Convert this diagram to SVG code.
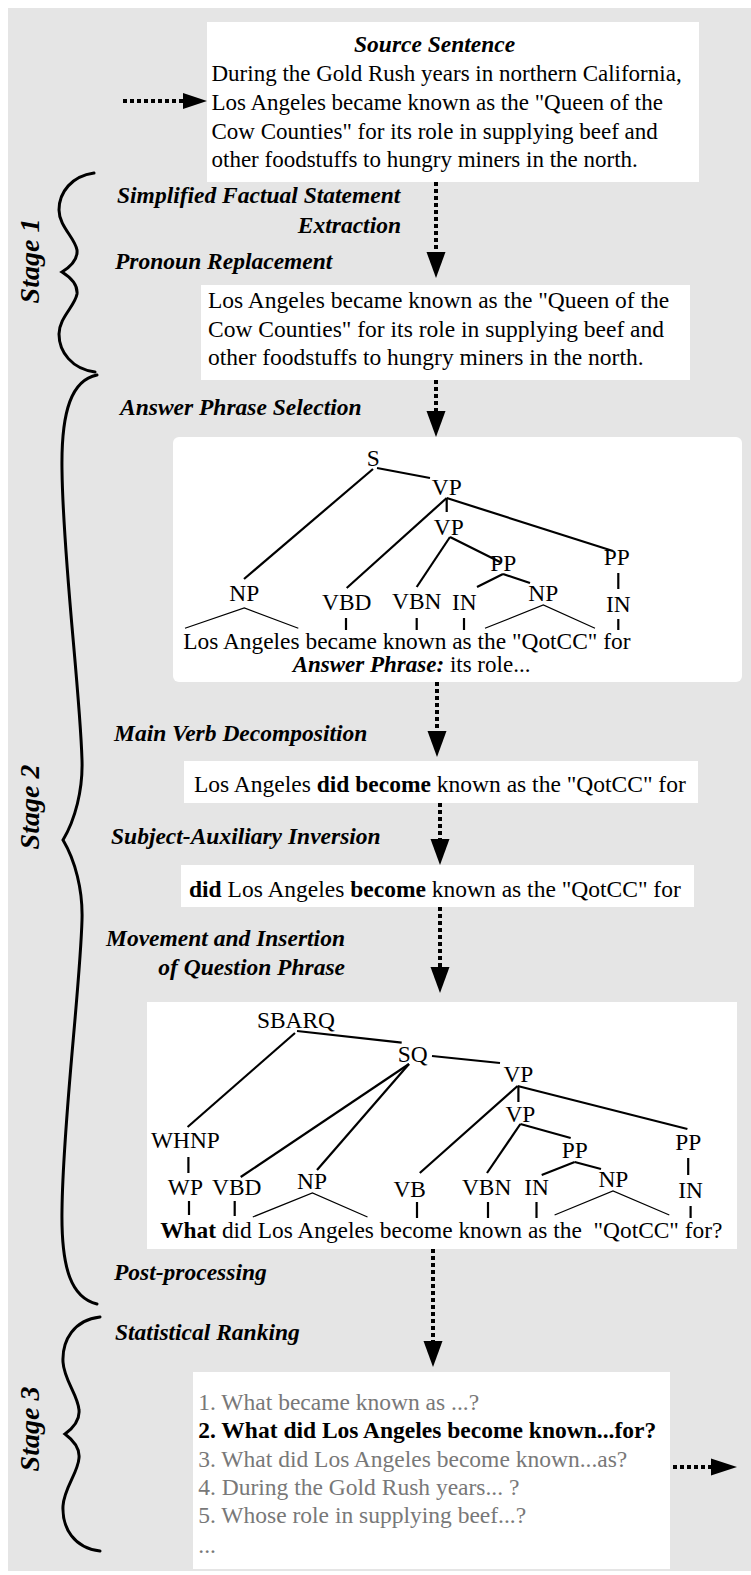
<svg xmlns="http://www.w3.org/2000/svg" width="751" height="1575" viewBox="0 0 751 1575">
<defs>
<style>
.bg{fill:#e5e5e5}
.box{fill:#ffffff}
text{font-family:"Liberation Serif","Times New Roman",serif;font-size:23.5px;fill:#000}
.src{font-size:23px}
.lbl{font-weight:bold;font-style:italic}
.stage{font-weight:bold;font-style:italic;font-size:28px;text-anchor:middle}
.b{font-weight:bold}
.g{fill:#787878}
.mid{text-anchor:middle}
.end{text-anchor:end}
.tree text{font-size:23.4px;text-anchor:middle}
.tree text.sent{text-anchor:start}
.edge{stroke:#000;stroke-width:2.2;fill:none}
.tri{stroke:#000;stroke-width:1.2;fill:none}
.dot{stroke:#000;stroke-width:4;stroke-dasharray:4 3;fill:none}
.brace{stroke:#000;stroke-width:3;fill:none;stroke-linecap:round}
.head{fill:#000}
</style>
</defs>

<g id="background">
<rect x="0" y="0" width="751" height="1575" fill="#ffffff"/>
<rect class="bg" x="8" y="8" width="743" height="1563"/>
</g>

<g id="stage1">
<path class="brace" d="M 94,173 C 72,176 59,192 59,210 C 59,226 75,238 77,250 C 78,260 70,267 62,272 C 70,277 78,284 77,294 C 75,306 59,318 59,334 C 59,352 72,369 95,372"/>
<text class="stage" transform="translate(39,261) rotate(-90)">Stage 1</text>
</g>

<g id="stage2">
<path class="brace" d="M 97,375 C 72,380 61,410 62,470 C 63,560 80,690 82,760 C 83,790 75,820 63,840 C 75,860 83,890 82,920 C 80,990 63,1120 62,1210 C 61,1270 72,1298 97,1304"/>
<text class="stage" transform="translate(39,807) rotate(-90)">Stage 2</text>
</g>

<g id="stage3">
<path class="brace" d="M 100,1317 C 74,1320 62,1340 63,1362 C 64,1380 78,1395 79,1410 C 80,1420 73,1428 65,1434 C 73,1440 80,1448 79,1458 C 78,1473 64,1488 63,1506 C 62,1528 74,1548 100,1551"/>
<text class="stage" transform="translate(39,1429) rotate(-90)">Stage 3</text>
</g>

<g id="source">
<rect class="box" x="207" y="22" width="492" height="160"/>
<text class="lbl" x="354" y="52">Source Sentence</text>
<text class="src" x="211.5" y="81">During the Gold Rush years in northern California,</text>
<text class="src" x="211.5" y="110">Los Angeles became known as the "Queen of the</text>
<text class="src" x="211.5" y="138.6">Cow Counties" for its role in supplying beef and</text>
<text class="src" x="211.5" y="167.4">other foodstuffs to hungry miners in the north.</text>
</g>

<g id="steps">
<text class="lbl" x="117" y="203">Simplified Factual Statement</text>
<text class="lbl end" x="401" y="233">Extraction</text>
<text class="lbl" x="115" y="269">Pronoun Replacement</text>
<text class="lbl" x="120" y="415">Answer Phrase Selection</text>
<text class="lbl" x="114" y="741">Main Verb Decomposition</text>
<text class="lbl" x="111" y="844">Subject-Auxiliary Inversion</text>
<text class="lbl" x="106" y="946">Movement and Insertion</text>
<text class="lbl end" x="345" y="975">of Question Phrase</text>
<text class="lbl" x="114" y="1280">Post-processing</text>
<text class="lbl" x="115" y="1340">Statistical Ranking</text>
</g>

<g id="statement">
<rect class="box" x="201" y="285" width="489" height="95"/>
<text x="208" y="308">Los Angeles became known as the "Queen of the</text>
<text x="208" y="336.6">Cow Counties" for its role in supplying beef and</text>
<text x="208" y="365.2">other foodstuffs to hungry miners in the north.</text>
</g>

<g id="tree1" class="tree">
<rect class="box" x="173" y="437" width="569" height="245" rx="6"/>
<text x="373.3" y="466">S</text>
<text x="446.7" y="495">VP</text>
<text x="448.7" y="535">VP</text>
<text x="244.3" y="601">NP</text>
<text x="346.7" y="610">VBD</text>
<text x="416.7" y="609">VBN</text>
<text x="464.3" y="610">IN</text>
<text x="503.3" y="571">PP</text>
<text x="543.3" y="601">NP</text>
<text x="616.7" y="565">PP</text>
<text x="618.3" y="612">IN</text>
<line class="edge" x1="377" y1="468" x2="430" y2="478"/>
<line class="edge" x1="373" y1="469" x2="244" y2="579"/>
<line class="edge" x1="446.7" y1="498" x2="346.7" y2="588"/>
<line class="edge" x1="446.7" y1="498" x2="446.7" y2="512"/>
<line class="edge" x1="446.7" y1="498" x2="613" y2="551"/>
<line class="edge" x1="450" y1="537" x2="416.7" y2="587"/>
<line class="edge" x1="450" y1="537" x2="500" y2="562"/>
<line class="edge" x1="503" y1="574" x2="477" y2="587"/>
<line class="edge" x1="503" y1="574" x2="530" y2="583"/>
<line class="edge" x1="618.3" y1="573" x2="618.3" y2="589"/>
<line class="edge" x1="618.3" y1="619" x2="618.3" y2="630"/>
<line class="edge" x1="346" y1="618" x2="346" y2="630"/>
<line class="edge" x1="416.7" y1="618" x2="416.7" y2="630"/>
<line class="edge" x1="464" y1="618" x2="464" y2="630"/>
<polyline class="tri" points="185,628.3 244.3,608 298.3,628.3"/>
<polyline class="tri" points="485,628.3 543.3,605 595,628.3"/>
<text class="sent" x="183.3" y="649">Los Angeles became known as the "QotCC" for</text>
<text class="sent" x="292.7" y="672" style="font-size:23px"><tspan class="lbl">Answer Phrase:</tspan> its role...</text>
</g>

<g id="decomposition">
<rect class="box" x="184" y="761" width="514" height="42"/>
<text x="194" y="792">Los Angeles <tspan class="b">did become</tspan> known as the "QotCC" for</text>
</g>

<g id="inversion">
<rect class="box" x="181" y="865" width="513" height="42"/>
<text x="189" y="897"><tspan class="b">did</tspan> Los Angeles <tspan class="b">become</tspan> known as the "QotCC" for</text>
</g>

<g id="tree2" class="tree">
<rect class="box" x="147" y="1002" width="590" height="247"/>
<text x="296" y="1028">SBARQ</text>
<text x="412.6" y="1062">SQ</text>
<text x="518.4" y="1082">VP</text>
<text x="520.4" y="1122">VP</text>
<text x="185.4" y="1148">WHNP</text>
<text x="574.7" y="1158">PP</text>
<text x="688.2" y="1150">PP</text>
<text x="185.4" y="1195">WP</text>
<text x="236.7" y="1195">VBD</text>
<text x="312" y="1189">NP</text>
<text x="409.7" y="1197">VB</text>
<text x="486.6" y="1195">VBN</text>
<text x="536.5" y="1195">IN</text>
<text x="613.4" y="1187">NP</text>
<text x="690.6" y="1198">IN</text>
<line class="edge" x1="297" y1="1031" x2="401.7" y2="1042.7"/>
<line class="edge" x1="295" y1="1033" x2="187.6" y2="1127"/>
<line class="edge" x1="432" y1="1056" x2="500" y2="1063"/>
<line class="edge" x1="409" y1="1064" x2="240.7" y2="1177"/>
<line class="edge" x1="409" y1="1064" x2="317" y2="1170"/>
<line class="edge" x1="517.6" y1="1086" x2="419.8" y2="1173"/>
<line class="edge" x1="518.4" y1="1086" x2="518.4" y2="1102"/>
<line class="edge" x1="517.6" y1="1086" x2="687.4" y2="1129"/>
<line class="edge" x1="520.4" y1="1124" x2="487" y2="1173"/>
<line class="edge" x1="520.4" y1="1124" x2="570.7" y2="1138"/>
<line class="edge" x1="574.7" y1="1162" x2="541.7" y2="1175"/>
<line class="edge" x1="574.7" y1="1162" x2="601" y2="1169"/>
<line class="edge" x1="688.2" y1="1158" x2="688.2" y2="1175"/>
<line class="edge" x1="690.6" y1="1206" x2="690.6" y2="1218"/>
<line class="edge" x1="188.4" y1="1157" x2="188.4" y2="1173"/>
<line class="edge" x1="189" y1="1201" x2="189" y2="1215"/>
<line class="edge" x1="234.7" y1="1201" x2="234.7" y2="1216"/>
<line class="edge" x1="417" y1="1202" x2="417" y2="1218"/>
<line class="edge" x1="488" y1="1202" x2="488" y2="1218"/>
<line class="edge" x1="536.5" y1="1202" x2="536.5" y2="1218"/>
<polyline class="tri" points="252.8,1217 312.4,1193 367.5,1217"/>
<polyline class="tri" points="554.6,1215 613,1191 669.3,1215"/>
<text class="sent" x="160.2" y="1238"><tspan class="b">What</tspan> did Los Angeles become known as the&#160; "QotCC" for?</text>
</g>

<g id="ranking">
<rect class="box" x="193" y="1372" width="477" height="197"/>
<text class="g" x="198.3" y="1410">1. What became known as ...?</text>
<text class="b" x="198.3" y="1438.3">2. What did Los Angeles become known...for?</text>
<text class="g" x="198.3" y="1466.7">3. What did Los Angeles become known...as?</text>
<text class="g" x="198.3" y="1495">4. During the Gold Rush years... ?</text>
<text class="g" x="198.3" y="1523">5. Whose role in supplying beef...?</text>
<text class="g" x="198.3" y="1553">...</text>
</g>

<g id="connectors">
<line class="dot" x1="123" y1="101" x2="184" y2="101"/>
<polygon class="head" points="183,93 207,101 183,109"/>
<line class="dot" x1="436" y1="182" x2="436" y2="253"/>
<polygon class="head" points="426.5,252 436,278 445.5,252"/>
<line class="dot" x1="436" y1="380" x2="436" y2="412"/>
<polygon class="head" points="426.5,411 436,437 445.5,411"/>
<line class="dot" x1="437" y1="682" x2="437" y2="732"/>
<polygon class="head" points="427.5,731 437,757 446.5,731"/>
<line class="dot" x1="440" y1="803" x2="440" y2="840"/>
<polygon class="head" points="430.5,839 440,865 449.5,839"/>
<line class="dot" x1="440" y1="907" x2="440" y2="968"/>
<polygon class="head" points="430.5,967 440,993 449.5,967"/>
<line class="dot" x1="433" y1="1249" x2="433" y2="1342"/>
<polygon class="head" points="423.5,1341 433,1367 442.5,1341"/>
<line class="dot" x1="673" y1="1467" x2="712" y2="1467"/>
<polygon class="head" points="711,1458.5 737,1467 711,1475.5"/>
</g>
</svg>
